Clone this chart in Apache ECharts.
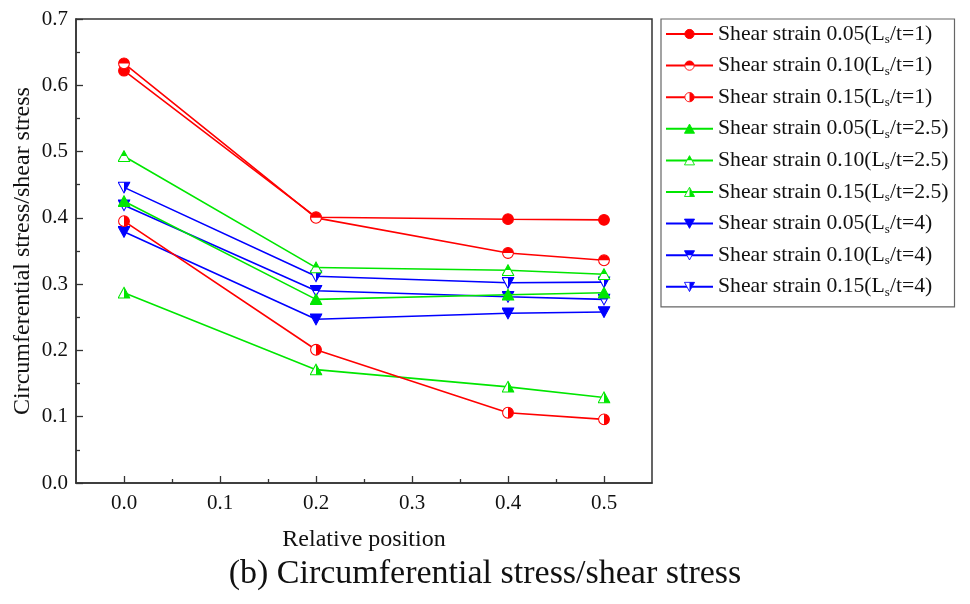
<!DOCTYPE html>
<html>
<head>
<meta charset="utf-8">
<script src="https://cdn.jsdelivr.net/npm/echarts@6/dist/echarts.min.js"></script>
<style>
  html, body { margin: 0; padding: 0; background: #fff; }
  #chart { width: 970px; height: 604px; }
</style>
</head>
<body>
<div id="chart"></div>
<script>
// Relative positions along the specimen
const positions = [0, 0.2, 0.4, 0.5];

// Circumferential stress / shear stress, Ls/t = 1
const red005 = [0.622, 0.401, 0.398, 0.397];
const red010 = [0.633, 0.400, 0.347, 0.336];
const red015 = [0.395, 0.201, 0.106, 0.096];
// Ls/t = 2.5
const green005 = [0.425, 0.277, 0.284, 0.287];
const green010 = [0.493, 0.325, 0.321, 0.315];
const green015 = [0.287, 0.171, 0.145, 0.129];
// Ls/t = 4
const blue005 = [0.379, 0.247, 0.256, 0.258];
const blue010 = [0.419, 0.290, 0.281, 0.277];
const blue015 = [0.446, 0.312, 0.302, 0.303];

const seriesNames = [
  'Shear strain 0.05(Ls/t=1)', 'Shear strain 0.10(Ls/t=1)', 'Shear strain 0.15(Ls/t=1)',
  'Shear strain 0.05(Ls/t=2.5)', 'Shear strain 0.10(Ls/t=2.5)', 'Shear strain 0.15(Ls/t=2.5)',
  'Shear strain 0.05(Ls/t=4)', 'Shear strain 0.10(Ls/t=4)', 'Shear strain 0.15(Ls/t=4)'
];
const xTickLabels = [0, 0.1, 0.2, 0.3, 0.4, 0.5];
const xMinorTicks = [0.05, 0.15, 0.25, 0.35, 0.45];

const RED = '#ff0000', GREEN = '#00e600', BLUE = '#0000ff';
const FONT = 'Liberation Serif, Times New Roman, serif';

// Marker glyphs as small SVG images: full, top-half and right-half filled
function svgSymbol(shape, fill, color) {
  const sw = 1.6;
  let outline, part = '';
  if (shape === 'circle') {
    outline = `<circle cx="10" cy="10" r="8.3" fill="${fill === 'full' ? color : '#fff'}" stroke="${color}" stroke-width="${sw}"/>`;
    if (fill === 'top') part = `<path d="M1.7,10 A8.3,8.3 0 0 1 18.3,10 Z" fill="${color}"/>`;
    if (fill === 'right') part = `<path d="M10,1.7 A8.3,8.3 0 0 1 10,18.3 Z" fill="${color}"/>`;
  } else if (shape === 'up') {
    outline = `<polygon points="10,1.5 19,18 1,18" fill="${fill === 'full' ? color : '#fff'}" stroke="${color}" stroke-width="${sw}" stroke-linejoin="miter"/>`;
    if (fill === 'top') part = `<polygon points="10,1.5 14.5,9.75 5.5,9.75" fill="${color}"/>`;
    if (fill === 'right') part = `<polygon points="10,1.5 19,18 10,18" fill="${color}"/>`;
  } else {
    outline = `<polygon points="1,2 19,2 10,18.5" fill="${fill === 'full' ? color : '#fff'}" stroke="${color}" stroke-width="${sw}" stroke-linejoin="miter"/>`;
    if (fill === 'top') part = `<polygon points="1,2 19,2 14.5,10.25 5.5,10.25" fill="${color}"/>`;
    if (fill === 'right') part = `<polygon points="10,2 19,2 10,18.5" fill="${color}"/>`;
  }
  const svg = `<svg xmlns="http://www.w3.org/2000/svg" width="20" height="20" viewBox="0 0 20 20">${outline}${part}</svg>`;
  return 'image://data:image/svg+xml;charset=utf-8,' + encodeURIComponent(svg);
}

const seriesDefs = [
  [red005, RED, 'circle', 'full'],
  [red010, RED, 'circle', 'top'],
  [red015, RED, 'circle', 'right'],
  [green005, GREEN, 'up', 'full'],
  [green010, GREEN, 'up', 'top'],
  [green015, GREEN, 'up', 'right'],
  [blue005, BLUE, 'down', 'full'],
  [blue010, BLUE, 'down', 'top'],
  [blue015, BLUE, 'down', 'right']
];

const series = seriesDefs.map(([vals, color, shape, fill], i) => ({
  name: seriesNames[i],
  type: 'line',
  xAxisIndex: 0,
  data: positions.map((p, k) => [p, vals[k]]),
  symbol: svgSymbol(shape, fill, color),
  symbolSize: 13,
  showAllSymbol: true,
  lineStyle: { color: color, width: 1.6 },
  itemStyle: { color: color },
  emphasis: { disabled: true },
  animation: false,
  z: 10 - Math.floor(i / 3)
}));

const chart = echarts.init(document.getElementById('chart'), null, { renderer: 'canvas' });

chart.setOption({
  backgroundColor: '#fff',
  animation: false,
  title: {
    text: '(b) Circumferential stress/shear stress',
    left: 'center',
    top: 552,
    textStyle: { fontFamily: FONT, fontSize: 34, fontWeight: 'normal', color: '#111' }
  },
  grid: {
    left: 76, right: 318, top: 19, bottom: 121,
    outerBoundsMode: 'none',
    containLabel: false,
    show: true, borderColor: '#333', borderWidth: 1.5, backgroundColor: 'transparent'
  },
  legend: {
    orient: 'vertical',
    left: 661, top: 19,
    padding: [4, 6, 8, 4],
    itemGap: 8.6,
    itemWidth: 47,
    itemHeight: 14,
    borderColor: '#666',
    borderWidth: 1.2,
    data: seriesNames,
    formatter: function (name) {
      const m = name.match(/^(.*\(L)s(\/.*)$/);
      return '{a|' + m[1] + '}{s|s}{a|' + m[2] + '}';
    },
    textStyle: {
      fontFamily: FONT, fontSize: 21.7, color: '#111',
      rich: {
        a: { fontFamily: FONT, fontSize: 21.7, lineHeight: 24, color: '#111' },
        s: { fontFamily: FONT, fontSize: 13, lineHeight: 13, verticalAlign: 'bottom', color: '#111' }
      }
    }
  },
  xAxis: [
    {
      type: 'value', min: -0.05, max: 0.55,
      name: 'Relative position', nameLocation: 'middle', nameGap: 45,
      nameMoveOverlap: false,
      nameTextStyle: { fontFamily: FONT, fontSize: 24, color: '#111' },
      axisLine: { show: true, onZero: false, lineStyle: { color: '#333', width: 1.5 } },
      axisTick: { show: true, inside: true, length: 7, customValues: xTickLabels, lineStyle: { color: '#333', width: 1.3 } },
      axisLabel: {
        customValues: xTickLabels, margin: 10,
        fontFamily: FONT, fontSize: 21, color: '#111',
        formatter: v => v.toFixed(1)
      },
      splitLine: { show: false }
    },
    {
      type: 'value', min: -0.05, max: 0.55, position: 'bottom',
      axisLine: { show: false, onZero: false },
      axisTick: { show: true, inside: true, length: 4, customValues: xMinorTicks, lineStyle: { color: '#333', width: 1.3 } },
      axisLabel: { show: false },
      splitLine: { show: false }
    }
  ],
  yAxis: {
    type: 'value', min: 0, max: 0.7, interval: 0.1,
    name: 'Circumferential stress/shear stress', nameLocation: 'middle', nameGap: 41,
    nameMoveOverlap: false,
    nameTextStyle: { fontFamily: FONT, fontSize: 24, color: '#111' },
    axisLine: { show: true, onZero: false, lineStyle: { color: '#333', width: 1.5 } },
    axisTick: { show: true, inside: true, length: 7, lineStyle: { color: '#333', width: 1.3 } },
    minorTick: { show: true, splitNumber: 2, length: 4, lineStyle: { color: '#333', width: 1.3 } },
    axisLabel: { margin: 8, fontFamily: FONT, fontSize: 21, color: '#111', formatter: v => v.toFixed(1) },
    splitLine: { show: false }
  },
  series: series
});
</script>
</body>
</html>
